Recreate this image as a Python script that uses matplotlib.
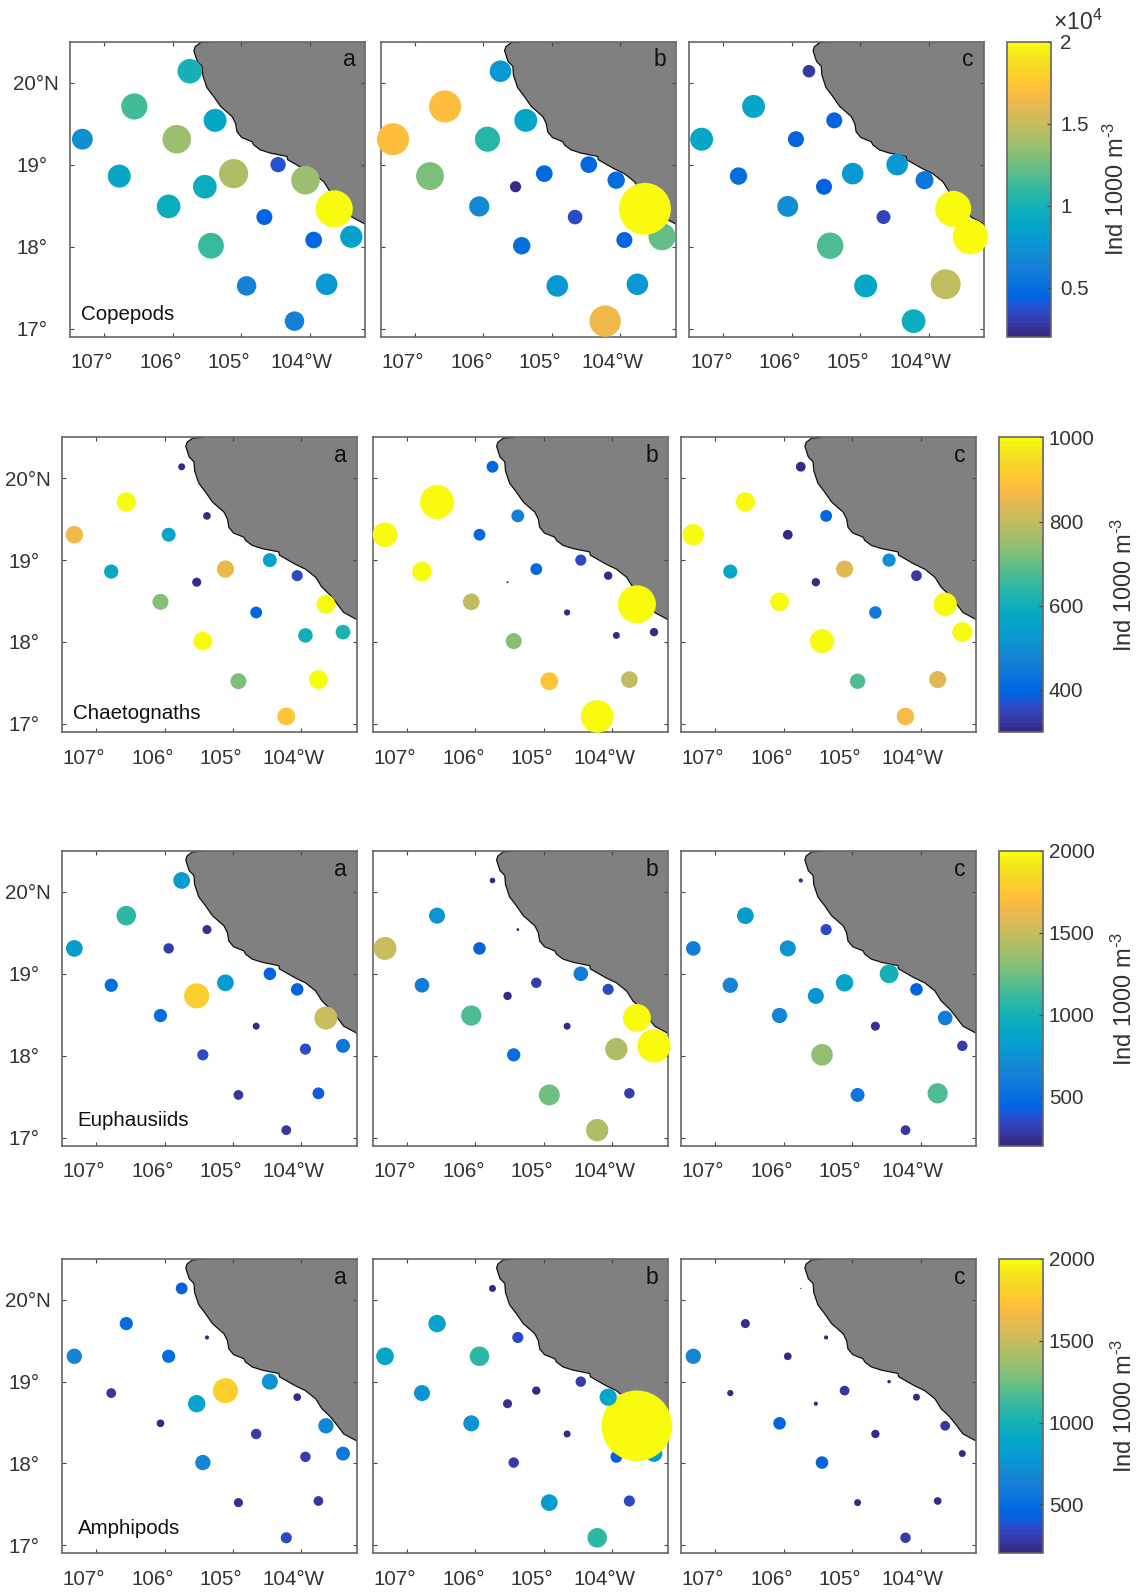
import numpy as np
import matplotlib
matplotlib.use("Agg")
import matplotlib.pyplot as plt
from matplotlib.colors import ListedColormap, Normalize
from matplotlib.transforms import ScaledTranslation

plt.rcParams['font.family'] = ['Liberation Sans', 'DejaVu Sans']
plt.rcParams['mathtext.fontset'] = 'custom'
plt.rcParams['mathtext.rm'] = 'Liberation Sans'
plt.rcParams['mathtext.default'] = 'regular'

# Stations (degrees east / north)
station_lon = [-105.75, -106.56, -105.38, -107.32, -105.94, -104.46, -106.78, -105.11, -105.53, -104.06,
               -106.06, -103.64, -104.66, -103.94, -103.39, -105.44, -104.92, -103.75, -104.22]
station_lat = [20.14, 19.71, 19.54, 19.31, 19.31, 19.00, 18.86, 18.89, 18.73, 18.81,
               18.49, 18.46, 18.36, 18.08, 18.12, 18.01, 17.52, 17.54, 17.09]
draw_order = [0, 1, 2, 3, 4, 5, 6, 7, 8, 10, 12, 13, 14, 15, 16, 17, 18, 11, 9]
nan = float('nan')

copepods_a = [10000, 11400, 8800, 7270, 13580, 3910, 8800, 14250, 9340, 13580,
              9340, 23000, 4270, 4650, 8270, 11060, 6340, 7760, 6340]
copepods_b = [7760, 17090, 8800, 17090, 10470, 4650, 12930, 4650, 2070, 5050,
              6800, 45000, 3560, 4270, 12290, 5050, 7760, 7760, 16400]
copepods_c = [2620, 8800, 4270, 8800, 4270, 7760, 5050, 7760, 4270, 5450,
              7270, 21600, 3230, nan, 20800, 11660, 8800, 14900, 9340]

chaetognaths_a = [139, 1070, 168, 868, 555, 555, 580, 850, 235, 355,
                  735, 1012, 400, 600, 620, 1012, 720, 1012, 900]
chaetognaths_b = [400, 3300, 470, 1740, 400, 355, 1090, 400, 12, 200,
                  800, 4125, 112, 139, 200, 735, 900, 800, 3050]
chaetognaths_c = [272, 1070, 400, 1300, 272, 500, 570, 840, 200, 330,
                  1000, 1555, 450, nan, 1140, 1645, 680, 840, 870]

euphausiids_a = [800, 1090, 235, 800, 312, 450, 500, 800, 1800, 450,
                 500, 1512, 139, 355, 555, 355, 272, 400, 272]
euphausiids_b = [89, 735, 22, 1512, 450, 612, 612, 312, 200, 355,
                 1168, 2240, 139, 1422, 3175, 500, 1250, 312, 1422]
euphausiids_c = [50, 800, 355, 612, 735, 1012, 672, 868, 735, 450,
                 672, 612, 235, nan, 312, 1335, 555, 1168, 272]

amphipods_a = [400, 500, 50, 672, 500, 735, 272, 1800, 868, 168,
               168, 672, 312, 312, 555, 672, 235, 272, 355]
amphipods_b = [139, 868, 355, 900, 1090, 312, 735, 200, 235, 850,
               735, 14260, 139, 400, 800, 312, 800, 355, 1090]
amphipods_c = [5, 235, 50, 672, 168, 35, 112, 272, 50, 139,
               450, 272, 200, nan, 139, 450, 139, 168, 312]

# Coast line
coast_lon = [-105.44, -105.59, -105.67, -105.69, -105.64, -105.57, -105.56, -105.50, -105.40, -105.30,
             -105.13, -105.08, -105.06, -104.99, -104.84, -104.815, -104.72, -104.57, -104.33, -104.32,
             -104.09, -103.94, -103.79, -103.70, -103.575, -103.48, -103.38, -103.19]
coast_lat = [20.50, 20.49, 20.44, 20.39, 20.26, 20.20, 20.09, 19.94, 19.83, 19.71,
             19.585, 19.50, 19.40, 19.33, 19.28, 19.24, 19.18, 19.14, 19.10, 19.06,
             18.95, 18.89, 18.79, 18.67, 18.57, 18.47, 18.36, 18.275]

x_ticks = [-107, -106, -105, -104]
x_tick_labels = ['107°', '106°', '105°', '104°W']
y_ticks = [17, 18, 19, 20]
y_tick_labels = ['17°', '18°', '19°', '20°N']
panel_letters = ['a', 'b', 'c']

group_names = ['Copepods', 'Chaetognaths', 'Euphausiids', 'Amphipods']
group_values = [[copepods_a, copepods_b, copepods_c],
                [chaetognaths_a, chaetognaths_b, chaetognaths_c],
                [euphausiids_a, euphausiids_b, euphausiids_c],
                [amphipods_a, amphipods_b, amphipods_c]]
color_limits = [(2000, 20000), (300, 1000), (200, 2000), (200, 2000)]
cbar_ticks = [[5000, 10000, 15000, 20000], [400, 600, 800, 1000], [500, 1000, 1500, 2000], [500, 1000, 1500, 2000]]
cbar_tick_labels = [['0.5', '1', '1.5', '2'], ['400', '600', '800', '1000'],
                    ['500', '1000', '1500', '2000'], ['500', '1000', '1500', '2000']]
area_per_value = [0.06, 0.35, 0.35, 0.35]   # squared pixels of diameter per unit of value

parula_table = [
 (0.2081,0.1663,0.5292),(0.2116,0.1898,0.5777),(0.2123,0.2138,0.6270),(0.2081,0.2386,0.6771),
 (0.1959,0.2645,0.7279),(0.1707,0.2919,0.7792),(0.1253,0.3242,0.8303),(0.0591,0.3598,0.8683),
 (0.0117,0.3875,0.8820),(0.0060,0.4086,0.8828),(0.0165,0.4266,0.8786),(0.0329,0.4430,0.8720),
 (0.0498,0.4586,0.8641),(0.0629,0.4737,0.8554),(0.0723,0.4887,0.8467),(0.0779,0.5040,0.8384),
 (0.0793,0.5200,0.8312),(0.0749,0.5375,0.8263),(0.0641,0.5570,0.8240),(0.0488,0.5772,0.8228),
 (0.0343,0.5966,0.8199),(0.0265,0.6137,0.8135),(0.0239,0.6287,0.8038),(0.0231,0.6418,0.7913),
 (0.0228,0.6535,0.7768),(0.0267,0.6642,0.7607),(0.0384,0.6743,0.7436),(0.0590,0.6838,0.7254),
 (0.0843,0.6928,0.7062),(0.1133,0.7015,0.6859),(0.1453,0.7098,0.6646),(0.1801,0.7177,0.6424),
 (0.2178,0.7250,0.6193),(0.2586,0.7317,0.5954),(0.3022,0.7376,0.5712),(0.3482,0.7424,0.5473),
 (0.3953,0.7459,0.5244),(0.4420,0.7481,0.5033),(0.4871,0.7491,0.4840),(0.5300,0.7491,0.4661),
 (0.5709,0.7485,0.4494),(0.6099,0.7473,0.4337),(0.6473,0.7456,0.4188),(0.6834,0.7435,0.4044),
 (0.7184,0.7411,0.3905),(0.7525,0.7384,0.3768),(0.7858,0.7356,0.3633),(0.8185,0.7327,0.3498),
 (0.8507,0.7299,0.3360),(0.8824,0.7274,0.3217),(0.9139,0.7258,0.3063),(0.9450,0.7261,0.2886),
 (0.9739,0.7314,0.2666),(0.9938,0.7455,0.2403),(0.9990,0.7653,0.2164),(0.9955,0.7861,0.1967),
 (0.9880,0.8066,0.1794),(0.9789,0.8271,0.1633),(0.9697,0.8481,0.1475),(0.9626,0.8705,0.1309),
 (0.9589,0.8949,0.1132),(0.9598,0.9218,0.0948),(0.9661,0.9514,0.0755),(0.9763,0.9831,0.0538)]
parula = ListedColormap(parula_table, name='parula')

W, H = 1136, 1594
fig = plt.figure(figsize=(W / 100, H / 100), dpi=100, facecolor='white')

row_y = [(41.7, 336.7), (437.3, 732.0), (851.0, 1145.7), (1259.0, 1553.3)]
first_row_x = [(70.0, 365.0), (380.7, 675.7), (689.3, 984.0)]
other_row_x = [(62.0, 356.7), (372.7, 667.7), (681.0, 976.0)]
first_cbar_x = (1006.7, 1050.7)
other_cbar_x = (998.7, 1043.3)
name_pos = [(0.037, 0.056), (0.036, 0.043), (0.053, 0.067), (0.053, 0.064)]

TEXT = '#333333'
EDGE = '#666666'
TICK_FS = 14.8


def px_axes(x0, x1, y0, y1):
    return fig.add_axes([x0 / W, 1 - y1 / H, (x1 - x0) / W, (y1 - y0) / H])


def px_shift(artist, dx, dy=0):
    artist.set_transform(artist.get_transform() + ScaledTranslation(dx / 100, dy / 100, fig.dpi_scale_trans))


order = np.array(draw_order)
lon = np.array(station_lon)[order]
lat = np.array(station_lat)[order]

for r, (name, values, clim) in enumerate(zip(group_names, group_values, color_limits)):
    y0, y1 = row_y[r]
    xs = first_row_x if r == 0 else other_row_x
    norm = Normalize(*clim)
    for c, (x0, x1) in enumerate(xs):
        ax = px_axes(x0, x1, y0, y1)
        ax.set_xlim(-107.5, -103.19)
        ax.set_ylim(16.9, 20.5)
        ax.fill(coast_lon + [-103.19, -105.44], coast_lat + [20.5, 20.5], color='#808080', lw=0, zorder=1)
        ax.plot(coast_lon, coast_lat, color='#111111', lw=0.9, zorder=2)
        v = np.array(values[c], dtype=float)[order]
        sizes = 0.5184 * area_per_value[r] * v
        ax.scatter(lon, lat, s=sizes, c=v, cmap=parula, norm=norm, linewidths=0, zorder=3, clip_on=False)
        ax.set_xticks(x_ticks)
        ax.set_xticklabels(x_tick_labels)
        ax.set_yticks(y_ticks)
        ax.set_yticklabels(y_tick_labels if c == 0 else [])
        ax.tick_params(axis='both', direction='in', length=2.6, width=0.8, color='#444444',
                       labelcolor=TEXT, labelsize=TICK_FS, top=True, right=True)
        ax.tick_params(axis='x', pad=12)
        ax.tick_params(axis='y', pad=8)
        for i, lab in enumerate(ax.get_xticklabels()):
            px_shift(lab, -8 if i == 3 else -12)
        if c == 0:
            for i, lab in enumerate(ax.get_yticklabels()):
                if i < 3:
                    px_shift(lab, -11)
        for s in ax.spines.values():
            s.set_color(EDGE)
            s.set_linewidth(1.2)
            s.set_zorder(2.5)
        ax.text(0.946, 0.938, panel_letters[c], transform=ax.transAxes, ha='center', va='center',
                fontsize=16.5, color='#111111', zorder=4)
        if c == 0:
            ax.text(name_pos[r][0], name_pos[r][1], name, transform=ax.transAxes, ha='left', va='baseline',
                    fontsize=14.8, color='#111111', zorder=4)

    cx0, cx1 = first_cbar_x if r == 0 else other_cbar_x
    cax = px_axes(cx0, cx1, y0, y1)
    sm = plt.cm.ScalarMappable(norm=norm, cmap=parula)
    cb = fig.colorbar(sm, cax=cax)
    cb.set_ticks(cbar_ticks[r])
    cb.set_ticklabels(cbar_tick_labels[r])
    cb.ax.tick_params(direction='in', length=2.6, width=0.8, color='#444444', labelcolor=TEXT,
                      labelsize=TICK_FS, pad=7 if r == 0 else 4)
    cb.outline.set_edgecolor(EDGE)
    cb.outline.set_linewidth(1.2)
    lx = (1116 if r == 0 else 1124.5) / W
    fig.text(lx, 1 - (y0 + y1) / 2 / H, r'Ind 1000 m$^{\text{-}3}$', rotation=90, ha='center', va='center',
             fontsize=17, color=TEXT)

fig.text(1053 / W, 1 - 30 / H, r'$\times 10^{4}$', ha='left', va='baseline', fontsize=16.5, color=TEXT)

fig.savefig('out.png', dpi=100, facecolor='white')
